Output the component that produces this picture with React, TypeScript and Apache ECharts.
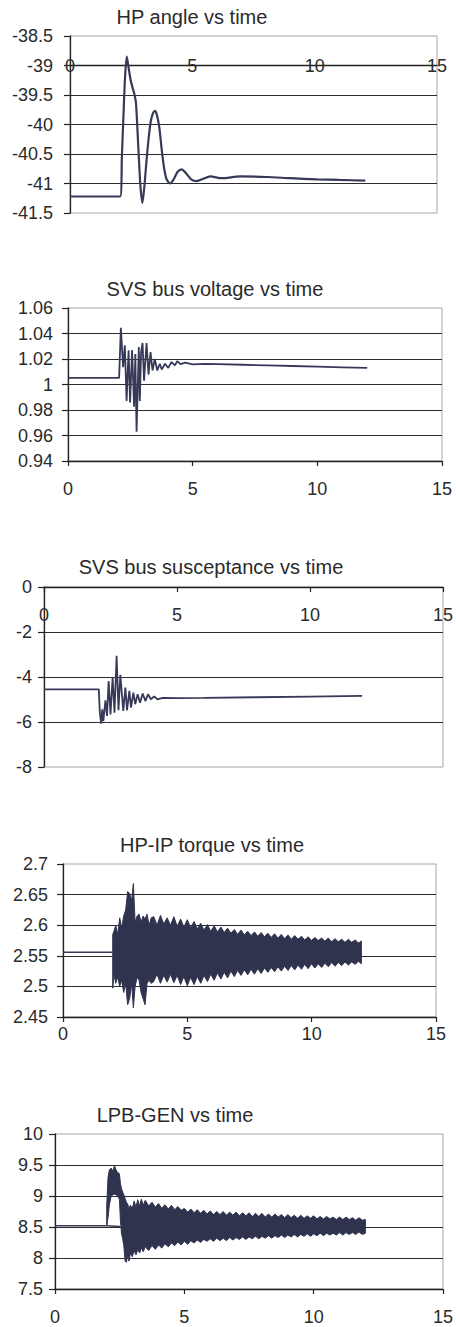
import React, { useEffect, useRef } from 'react';
import * as echarts from 'echarts';

const W = 456;
const H = 1327;

// ---------- Chart 1: HP angle vs time ----------
const TITLE1 = 'HP angle vs time';
const T1 = [0, 2.05, 2.12, 2.18, 2.25, 2.32, 2.40, 2.48, 2.56, 2.64, 2.70, 2.80, 2.88, 2.96, 3.04, 3.12, 3.21, 3.30, 3.40, 3.48, 3.56, 3.65, 3.75, 3.85, 3.95, 4.09, 4.25, 4.40, 4.57, 4.75, 4.95, 5.18, 5.45, 5.73, 6.20, 6.95, 8.05, 9.00, 10.10, 11.00, 12.07];
const V1 = [-41.22, -41.22, -40.55, -39.90, -39.20, -38.85, -39.05, -39.25, -39.38, -39.50, -39.65, -40.45, -41.05, -41.33, -41.05, -40.65, -40.25, -39.95, -39.80, -39.77, -39.85, -40.05, -40.43, -40.75, -40.93, -41.00, -40.92, -40.80, -40.76, -40.83, -40.93, -40.96, -40.92, -40.88, -40.91, -40.88, -40.89, -40.91, -40.93, -40.94, -40.95];

// ---------- Chart 2: SVS bus voltage vs time ----------
const TITLE2 = 'SVS bus voltage vs time';
const T2 = [0, 2.05, 2.12, 2.21, 2.28, 2.35, 2.43, 2.49, 2.57, 2.65, 2.70, 2.75, 2.84, 2.88, 2.93, 2.99, 3.05, 3.15, 3.23, 3.31, 3.39, 3.48, 3.58, 3.68, 3.76, 3.89, 4.02, 4.15, 4.29, 4.38, 4.51, 4.70, 5.00, 5.50, 6.00, 7.00, 8.00, 9.00, 10.00, 11.00, 12.00];
const V2 = [1.0052, 1.0052, 1.0445, 1.0136, 1.0308, 0.987, 1.0268, 0.986, 1.027, 0.9825, 1.024, 0.963, 1.0294, 0.987, 1.025, 1.0326, 1.003, 1.0326, 1.0078, 1.0255, 1.011, 1.020, 1.011, 1.0163, 1.0118, 1.0163, 1.013, 1.0176, 1.015, 1.0184, 1.016, 1.0172, 1.0158, 1.0162, 1.016, 1.0155, 1.015, 1.0145, 1.014, 1.0135, 1.013];

// ---------- Chart 3: SVS bus susceptance vs time ----------
const TITLE3 = 'SVS bus susceptance vs time';
const T3 = [0, 2.06, 2.10, 2.15, 2.19, 2.23, 2.31, 2.37, 2.43, 2.50, 2.58, 2.65, 2.73, 2.80, 2.87, 2.98, 3.06, 3.12, 3.21, 3.27, 3.36, 3.43, 3.52, 3.61, 3.71, 3.81, 3.91, 4.02, 4.14, 4.27, 4.46, 5.08, 6.00, 8.00, 10.00, 11.96];
const V3 = [-4.55, -4.55, -5.6, -6.07, -5.44, -5.96, -5.04, -5.73, -4.18, -5.66, -4.03, -5.59, -3.06, -5.48, -3.9, -5.51, -4.47, -5.48, -4.62, -5.36, -4.70, -5.21, -4.77, -5.14, -4.73, -5.07, -4.77, -4.99, -4.86, -4.99, -4.93, -4.94, -4.93, -4.90, -4.87, -4.84];

// ---------- Chart 4: HP-IP torque vs time ----------
const TITLE4 = 'HP-IP torque vs time';
const T4_PRE = [0, 2.0];
const V4_PRE = [2.556, 2.556];
const T4 = [2.00, 2.05, 2.12, 2.20, 2.28, 2.36, 2.44, 2.52, 2.60, 2.68, 2.76, 2.83, 2.90, 2.98, 3.06, 3.14, 3.22, 3.30, 3.38, 3.46, 3.55,
  3.65, 3.78, 3.92, 4.05, 4.19, 4.32, 4.46, 4.59, 4.73, 4.86, 5.00, 5.13, 5.27, 5.40, 5.54, 5.67, 5.81, 5.94, 6.08, 6.21, 6.35, 6.48, 6.62, 6.75, 6.89, 7.02, 7.16, 7.29, 7.43, 7.56, 7.70, 7.83, 7.97, 8.10, 8.24, 8.37, 8.51, 8.64, 8.78, 8.91, 9.05, 9.18, 9.32, 9.45, 9.59, 9.72, 9.86, 9.99, 10.13, 10.26, 10.40, 10.53, 10.67, 10.80, 10.94, 11.07, 11.21, 11.34, 11.48, 11.61, 11.75, 11.88, 12.00];
const HI4 = [2.585, 2.590, 2.600, 2.585, 2.612, 2.595, 2.615, 2.625, 2.655, 2.652, 2.640, 2.668, 2.605, 2.615, 2.618, 2.605, 2.615, 2.610, 2.618, 2.600, 2.612,
  2.614, 2.600, 2.616, 2.602, 2.612, 2.600, 2.614, 2.598, 2.610, 2.597, 2.609, 2.596, 2.606, 2.594, 2.603, 2.592, 2.601, 2.590, 2.599, 2.589, 2.597, 2.588, 2.595, 2.587, 2.593, 2.585, 2.592, 2.584, 2.590, 2.583, 2.589, 2.582, 2.588, 2.581, 2.587, 2.580, 2.586, 2.579, 2.585, 2.578, 2.584, 2.577, 2.583, 2.577, 2.582, 2.576, 2.581, 2.575, 2.580, 2.575, 2.579, 2.574, 2.579, 2.573, 2.578, 2.573, 2.577, 2.572, 2.577, 2.572, 2.576, 2.571, 2.574];
const LO4 = [2.497, 2.520, 2.505, 2.515, 2.500, 2.510, 2.490, 2.505, 2.470, 2.480, 2.505, 2.465, 2.500, 2.515, 2.510, 2.490, 2.480, 2.470, 2.505, 2.510, 2.505,
  2.508, 2.520, 2.505, 2.518, 2.507, 2.520, 2.506, 2.518, 2.503, 2.516, 2.501, 2.515, 2.503, 2.516, 2.505, 2.518, 2.508, 2.520, 2.510, 2.522, 2.512, 2.523, 2.514, 2.525, 2.516, 2.526, 2.518, 2.527, 2.519, 2.528, 2.520, 2.529, 2.521, 2.530, 2.523, 2.531, 2.524, 2.532, 2.525, 2.533, 2.526, 2.534, 2.527, 2.535, 2.528, 2.536, 2.529, 2.537, 2.530, 2.537, 2.531, 2.538, 2.532, 2.539, 2.533, 2.539, 2.534, 2.540, 2.535, 2.540, 2.536, 2.541, 2.537];

// ---------- Chart 5: LPB-GEN vs time ----------
const TITLE5 = 'LPB-GEN vs time';
const T5_PRE = [0, 2.0, 2.52];
const V5_PRE = [8.52, 8.52, 8.51];
const T5 = [2.00, 2.05, 2.10, 2.17, 2.24, 2.30, 2.36, 2.42, 2.49, 2.53, 2.57, 2.62, 2.66, 2.71, 2.76, 2.81, 2.86, 2.92, 2.99, 3.06, 3.13, 3.20, 3.27, 3.34, 3.41, 3.49,
  3.62, 3.75, 3.88, 4.00, 4.13, 4.25, 4.38, 4.50, 4.63, 4.75, 4.88, 5.00, 5.13, 5.25, 5.38, 5.50, 5.63, 5.75, 5.88, 6.00,
  6.13, 6.25, 6.38, 6.50, 6.63, 6.75, 6.88, 7.00, 7.13, 7.25, 7.38, 7.50, 7.63, 7.75, 7.88, 8.00, 8.13, 8.25, 8.38, 8.50, 8.63, 8.75, 8.88, 9.00, 9.13, 9.25, 9.38, 9.50, 9.63, 9.75, 9.88, 10.00, 10.13, 10.25, 10.38, 10.50, 10.63, 10.75, 10.88, 11.00, 11.13, 11.25, 11.38, 11.50, 11.63, 11.75, 11.88, 12.00];
const HI5 = [8.85, 9.30, 9.42, 9.45, 9.40, 9.49, 9.42, 9.38, 9.36, 9.20, 9.12, 9.06, 9.02, 8.96, 8.90, 8.87, 8.80, 8.85, 8.80, 8.92, 8.82, 8.94, 8.84, 8.95, 8.85, 8.93,
  8.84, 8.90, 8.82, 8.88, 8.80, 8.86, 8.79, 8.85, 8.78, 8.83, 8.77, 8.80, 8.74, 8.79, 8.73, 8.78, 8.72, 8.77, 8.71, 8.76,
  8.70, 8.75, 8.70, 8.75, 8.69, 8.74, 8.69, 8.74, 8.68, 8.73, 8.68, 8.73, 8.67, 8.72, 8.67, 8.72, 8.66, 8.71, 8.66, 8.71, 8.66, 8.70, 8.65, 8.70, 8.65, 8.69, 8.64, 8.69, 8.64, 8.68, 8.64, 8.68, 8.63, 8.67, 8.63, 8.67, 8.63, 8.66, 8.62, 8.66, 8.62, 8.66, 8.62, 8.65, 8.61, 8.65, 8.61, 8.62];
const LO5 = [8.52, 8.65, 8.85, 9.00, 9.02, 9.03, 9.02, 9.00, 8.95, 8.60, 8.40, 8.30, 8.20, 7.95, 7.93, 8.05, 7.95, 8.08, 8.02, 8.12, 8.05, 8.14, 8.08, 8.16, 8.10, 8.18,
  8.12, 8.20, 8.14, 8.21, 8.16, 8.23, 8.18, 8.24, 8.20, 8.26, 8.21, 8.27, 8.22, 8.28, 8.24, 8.29, 8.25, 8.30, 8.27, 8.31,
  8.27, 8.32, 8.28, 8.32, 8.28, 8.33, 8.29, 8.33, 8.30, 8.34, 8.30, 8.34, 8.31, 8.35, 8.31, 8.35, 8.32, 8.36, 8.32, 8.36, 8.33, 8.37, 8.33, 8.37, 8.34, 8.38, 8.34, 8.38, 8.35, 8.39, 8.35, 8.39, 8.36, 8.40, 8.36, 8.40, 8.37, 8.40, 8.37, 8.41, 8.37, 8.41, 8.38, 8.41, 8.38, 8.42, 8.38, 8.40];

// ---------- Axis ranges ----------
const X_MIN = 0, X_MAX = 15, X_INT = 5;
const Y1 = { min: -41.5, max: -38.5, interval: 0.5 };
const Y2 = { min: 0.94, max: 1.06, interval: 0.02 };
const Y3 = { min: -8, max: 0, interval: 2 };
const Y4 = { min: 2.45, max: 2.7, interval: 0.05 };
const Y5 = { min: 7.5, max: 10, interval: 0.5 };

const FONT = '"Liberation Sans", Arial, Helvetica, sans-serif';
const TXT = '#2a2a2a';
const LINE = '#363a58';
const BAND = '#2f334e';
const GRIDC = '#2c2c2c';
const AXC = '#222';
const BORDER = '#a6a6a6';

const BOXES = [
  { left: 70, top: 36, width: 367, height: 177 },
  { left: 68, top: 308, width: 374, height: 153 },
  { left: 44, top: 587, width: 401, height: 180 },
  { left: 63, top: 864, width: 373, height: 153 },
  { left: 55, top: 1134, width: 391, height: 155 },
];
const TITLES = [
  { text: TITLE1, x: 192, y: 17 },
  { text: TITLE2, x: 215, y: 289 },
  { text: TITLE3, x: 211, y: 567 },
  { text: TITLE4, x: 212, y: 845 },
  { text: TITLE5, x: 175, y: 1115 },
];

function pairs(t: number[], v: number[]) {
  return t.map((x, i) => [x, v[i]]);
}

// One closed polygon: upper envelope forward, lower envelope backward,
// each vertex placed through the axis scales with api.coord.
function bandSeries(axis: number, t: number[], lo: number[], hi: number[]) {
  const data = t.map((x, i) => [x, lo[i], hi[i]]);
  return {
    type: 'custom',
    xAxisIndex: axis,
    yAxisIndex: axis,
    silent: true,
    z: 3,
    data,
    encode: { x: 0, y: [1, 2] },
    renderItem: (params: any, api: any) => {
      if (params.dataIndex !== 0) return null;
      const pts: number[][] = [];
      for (let i = 0; i < t.length; i++) pts.push(api.coord([t[i], hi[i]]));
      for (let i = t.length - 1; i >= 0; i--) pts.push(api.coord([t[i], lo[i]]));
      return {
        type: 'polygon',
        shape: { points: pts },
        style: { fill: BAND, stroke: BAND, lineWidth: 1, lineJoin: 'miter' },
      };
    },
  };
}

function yAxis(i: number, r: { min: number; max: number; interval: number }, margin: number) {
  return {
    gridIndex: i,
    type: 'value',
    min: r.min,
    max: r.max,
    interval: r.interval,
    axisLine: { show: true, lineStyle: { color: AXC, width: 1.3 } },
    axisTick: { show: true, length: 6, lineStyle: { color: AXC, width: 1.2 } },
    axisLabel: {
      margin,
      fontSize: 18,
      fontFamily: FONT,
      color: TXT,
      showMinLabel: true,
      showMaxLabel: true,
      verticalAlign: 'middle',
    },
    splitLine: { show: true, showMinLine: false, showMaxLine: false, lineStyle: { color: GRIDC, width: 1.2 } },
  };
}

function xAxis(i: number, cfg: any) {
  return {
    gridIndex: i,
    type: 'value',
    min: X_MIN,
    max: X_MAX,
    interval: X_INT,
    position: cfg.position,
    offset: cfg.offset || 0,
    axisLine: { show: true, onZero: false, lineStyle: { color: AXC, width: 1.3 } },
    axisTick: { show: cfg.tick !== false, inside: !!cfg.tickInside, length: 5, lineStyle: { color: AXC, width: 1.2 } },
    axisLabel: {
      margin: cfg.margin,
      inside: !!cfg.labelInside,
      fontSize: 18,
      fontFamily: FONT,
      color: TXT,
      showMinLabel: true,
      showMaxLabel: true,
      verticalAlign: 'middle',
    },
    splitLine: { show: false },
  };
}

function buildOption() {
  const grid = BOXES.map((b) => ({
    left: b.left, top: b.top, width: b.width, height: b.height,
    show: true, borderColor: BORDER, borderWidth: 1, backgroundColor: 'transparent',
    containLabel: false,
  }));
  const off1 = -(BOXES[0].height * (Y1.max - -39)) / (Y1.max - Y1.min);
  const xAxes = [
    xAxis(0, { position: 'top', offset: off1, margin: 0, tick: false }),
    xAxis(1, { position: 'bottom', margin: 28 }),
    xAxis(2, { position: 'top', margin: 28, labelInside: true, tickInside: true }),
    xAxis(3, { position: 'bottom', margin: 17 }),
    xAxis(4, { position: 'bottom', margin: 28 }),
  ];
  const yAxes = [
    yAxis(0, Y1, 17),
    yAxis(1, Y2, 15),
    yAxis(2, Y3, 12),
    yAxis(3, Y4, 15),
    yAxis(4, Y5, 12),
  ];
  const lineBase = { type: 'line', showSymbol: false, symbol: 'none', silent: true, z: 3 };
  const series: any[] = [
    { ...lineBase, xAxisIndex: 0, yAxisIndex: 0, data: pairs(T1, V1), smooth: 0.25, lineStyle: { color: LINE, width: 2.2 } },
    { ...lineBase, xAxisIndex: 1, yAxisIndex: 1, data: pairs(T2, V2), lineStyle: { color: LINE, width: 1.8 } },
    { ...lineBase, xAxisIndex: 2, yAxisIndex: 2, data: pairs(T3, V3), lineStyle: { color: LINE, width: 1.8 } },
    { ...lineBase, xAxisIndex: 3, yAxisIndex: 3, data: pairs(T4_PRE, V4_PRE), lineStyle: { color: LINE, width: 1.5 } },
    bandSeries(3, T4, LO4, HI4),
    { ...lineBase, xAxisIndex: 4, yAxisIndex: 4, data: pairs(T5_PRE, V5_PRE), lineStyle: { color: LINE, width: 1.5 } },
    bandSeries(4, T5, LO5, HI5),
  ];
  const graphic = TITLES.map((t) => ({
    type: 'text',
    x: t.x,
    y: t.y,
    silent: true,
    style: {
      text: t.text,
      fontSize: 20,
      fontFamily: FONT,
      fill: TXT,
      textAlign: 'center',
      textVerticalAlign: 'middle',
    },
  }));
  return {
    animation: false,
    backgroundColor: '#ffffff',
    grid,
    xAxis: xAxes,
    yAxis: yAxes,
    series,
    graphic,
  };
}

export default function App() {
  const ref = useRef<HTMLDivElement>(null);
  useEffect(() => {
    if (!ref.current) return;
    const chart = echarts.init(ref.current, null, { renderer: 'svg' });
    chart.setOption(buildOption() as any);
    return () => {
      chart.dispose();
    };
  }, []);
  return (
    <div
      ref={ref}
      style={{ position: 'absolute', left: 0, top: 0, width: W, height: H, background: '#fff' }}
    />
  );
}
